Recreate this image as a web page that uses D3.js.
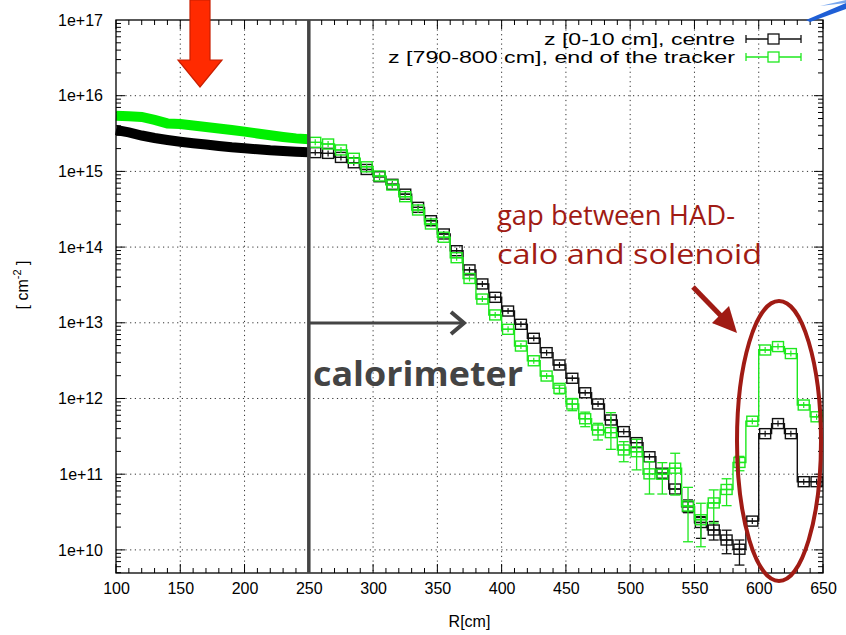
<!DOCTYPE html>
<html><head><meta charset="utf-8">
<script src="https://cdn.jsdelivr.net/npm/d3@7"></script>
<style>html,body{margin:0;padding:0;background:#fff;}svg{display:block;}</style>
</head><body>
<script>
// ---- data ----
const xTicks = [100,150,200,250,300,350,400,450,500,550,600,650];
const yTicks = [1e10,1e11,1e12,1e13,1e14,1e15,1e16,1e17];
const yTickLabels = ["1e+10","1e+11","1e+12","1e+13","1e+14","1e+15","1e+16","1e+17"];
const seriesNames = ["z [0-10 cm], centre","z [790-800 cm], end of the tracker"];

// dense tracker region (R 100-250 cm)
const bandR = [100,110,120,130,140,150,160,170,180,190,200,210,220,230,240,250];
const bandCentre = [3.52e15,3.27e15,2.98e15,2.76e15,2.60e15,2.47e15,2.36e15,2.27e15,2.17e15,2.08e15,2.02e15,1.96e15,1.90e15,1.86e15,1.82e15,1.79e15];
const bandEnd = [5.45e15,5.35e15,5.24e15,4.78e15,4.30e15,4.23e15,4.04e15,3.86e15,3.69e15,3.52e15,3.35e15,3.17e15,3.00e15,2.85e15,2.73e15,2.65e15];

// 10 cm bins (R 250-650 cm)
const binR = [255,265,275,285,295,305,315,325,335,345,355,365,375,385,395,405,415,425,435,445,455,465,475,485,495,505,515,525,535,545,555,565,575,585,595,605,615,625,635,645];
const centre = [1.77e15,1.73e15,1.53e15,1.30e15,1.06e15,8.5e14,6.75e14,5.0e14,3.35e14,2.23e14,1.49e14,8.96e13,5.0e13,3.26e13,2.17e13,1.43e13,9.55e12,6.24e12,4.03e12,2.77e12,1.85e12,1.19e12,8.46e11,5.2e11,3.65e11,2.61e11,1.70e11,1.03e11,6.37e10,3.72e10,2.3e10,1.83e10,1.35e10,1.02e10,2.4e10,3.43e11,4.66e11,3.43e11,7.96e10,7.96e10];
const endTracker = [2.42e15,2.30e15,1.92e15,1.49e15,1.15e15,8.7e14,6.6e14,4.63e14,3.09e14,2.02e14,1.35e14,7.24e13,3.85e13,2.06e13,1.27e13,8.2e12,4.93e12,3.15e12,1.98e12,1.36e12,8.46e11,5.4e11,3.84e11,3.54e11,2.09e11,1.98e11,1.01e11,9.97e10,1.2e11,3.8e10,2.5e10,4.17e10,6.28e10,1.43e11,5.01e11,4.37e12,4.85e12,3.92e12,8.2e11,5.73e11];

// visible error bars
const centreErrR = [545,555,565,575,585];
const centreErrLo = [3.1e10,1.42e10,1.35e10,8.9e9,6.3e9];
const centreErrHi = [4.57e10,2.75e10,2.37e10,1.82e10,1.35e10];
const endErrR = [445,455,465,475,485,495,505,515,525,535,545,555,565,575,585];
const endErrLo = [1.15e12,6.9e11,4.24e11,2.83e11,2.13e11,1.46e11,1.14e11,5.47e10,5.47e10,5.3e10,1.28e10,1.1e10,2.26e10,3.84e10,1.11e11];
const endErrHi = [1.5e12,1.0e12,6.6e11,4.7e11,6.5e11,2.69e11,2.89e11,1.46e11,1.42e11,1.89e11,6.7e10,4.13e10,6.2e10,8.7e10,1.72e11];

// ---- drawing ----
const W = 846, H = 635;
const L = 116, R = 823, T = 20, B = 573;
const BLACK = "#111", GREEN = "#1ee81e", DARKRED = "#a01b14", GREY = "#444";

const svg = d3.select("body").append("svg").attr("width", W).attr("height", H)
  .style("font-family", "'Liberation Sans', Arial, sans-serif");

const x = d3.scaleLinear().domain([100, 650]).range([L, R]);
const y = d3.scaleLog().domain([4.95e9, 1e17]).range([B, T]);

// grid
const grid = svg.append("g").attr("stroke", "#333").attr("stroke-width", 1).attr("stroke-dasharray", "1.2,3.5");
xTicks.slice(1, -1).forEach(v => grid.append("line").attr("x1", x(v)).attr("x2", x(v)).attr("y1", T).attr("y2", B));
yTicks.slice(0, -1).forEach(v => grid.append("line").attr("x1", L).attr("x2", R).attr("y1", y(v)).attr("y2", y(v)));

// axes
const xMinor = d3.range(100, 651, 10);
const yMinor = [];
for (let e = 9; e < 17; e++) for (let m = 1; m < 10; m++) { const v = m * Math.pow(10, e); if (v >= 4.95e9 && v <= 1e17) yMinor.push(v); }

const axB = d3.axisBottom(x).tickValues(xTicks).tickFormat(d3.format("d")).tickSize(0).tickPadding(10);
const gB = svg.append("g").attr("transform", `translate(0,${B})`).call(axB);
gB.select(".domain").remove();
gB.selectAll("text").attr("font-size", 16).attr("fill", "#000").attr("font-family", "'Liberation Sans', Arial, sans-serif");

const axL = d3.axisLeft(y).tickValues(yTicks).tickFormat((d, i) => yTickLabels[i]).tickSize(0).tickPadding(13);
const gL = svg.append("g").attr("transform", `translate(${L},0)`).call(axL);
gL.select(".domain").remove();
gL.selectAll("text").attr("font-size", 16).attr("fill", "#000").attr("font-family", "'Liberation Sans', Arial, sans-serif");

const ticks = svg.append("g").attr("stroke", "#000").attr("stroke-width", 1);
xMinor.forEach(v => {
  const len = (v % 50 === 0) ? 9 : 5;
  ticks.append("line").attr("x1", x(v)).attr("x2", x(v)).attr("y1", B).attr("y2", B - len);
  ticks.append("line").attr("x1", x(v)).attr("x2", x(v)).attr("y1", T).attr("y2", T + len);
});
yMinor.forEach(v => {
  const major = Math.abs(Math.log10(v) - Math.round(Math.log10(v))) < 1e-9;
  const len = major ? 9 : 5;
  ticks.append("line").attr("x1", L).attr("x2", L + len).attr("y1", y(v)).attr("y2", y(v));
  ticks.append("line").attr("x1", R).attr("x2", R - len).attr("y1", y(v)).attr("y2", y(v));
});

// axis titles
svg.append("text").attr("x", (L + R) / 2 - 0).attr("y", 627).attr("text-anchor", "middle")
  .attr("font-size", 16).text("R[cm]");
const yl = svg.append("text").attr("transform", "translate(28,285) rotate(-90)").attr("text-anchor", "middle").attr("font-size", 16);
yl.append("tspan").text("[ cm");
yl.append("tspan").attr("dy", -7).attr("font-size", 11).text("-2");
yl.append("tspan").attr("dy", 7).text(" ]");

// dense band (tracker region)
const bandLine = d3.line().x(d => x(d[0])).y(d => y(d[1]));
svg.append("path").attr("d", bandLine(bandR.map((r, i) => [r, bandCentre[i]])))
  .attr("fill", "none").attr("stroke", "#000").attr("stroke-width", 10);
svg.append("path").attr("d", bandLine(bandR.map((r, i) => [r, bandEnd[i]])))
  .attr("fill", "none").attr("stroke", "#00f000").attr("stroke-width", 10);

// histogram steps + markers
function drawSeries(vals, color, errR, errLo, errHi) {
  const g = svg.append("g");
  const pts = binR.flatMap((r, i) => [[r - 5, vals[i]], [r + 5, vals[i]]]);
  g.append("path").attr("d", bandLine(pts)).attr("fill", "none").attr("stroke", color).attr("stroke-width", 1.4);
  errR.forEach((r, i) => {
    const cx = x(r);
    g.append("line").attr("x1", cx).attr("x2", cx).attr("y1", y(errLo[i])).attr("y2", y(errHi[i])).attr("stroke", color).attr("stroke-width", 1.3);
    [errLo[i], errHi[i]].forEach(v => g.append("line").attr("x1", cx - 5).attr("x2", cx + 5).attr("y1", y(v)).attr("y2", y(v)).attr("stroke", color).attr("stroke-width", 1.3));
  });
  binR.forEach((r, i) => {
    const cx = x(r), cy = y(vals[i]);
    g.append("rect").attr("x", cx - 5.5).attr("y", cy - 5).attr("width", 11).attr("height", 10)
      .attr("fill", "none").attr("stroke", color).attr("stroke-width", 1.4);
    g.append("line").attr("x1", cx - 5.5).attr("x2", cx + 5.5).attr("y1", cy).attr("y2", cy).attr("stroke", color).attr("stroke-width", 1.2);
    g.append("line").attr("x1", cx).attr("x2", cx).attr("y1", cy - 3).attr("y2", cy + 3).attr("stroke", color).attr("stroke-width", 1.2);
  });
}
drawSeries(centre, BLACK, centreErrR, centreErrLo, centreErrHi);
drawSeries(endTracker, GREEN, endErrR, endErrLo, endErrHi);

// frame
svg.append("rect").attr("x", L).attr("y", T).attr("width", R - L).attr("height", B - T)
  .attr("fill", "none").attr("stroke", "#000").attr("stroke-width", 1.3);

// legend
const legend = svg.append("g");
const legendWidths = [191, 347];
[[BLACK, 39], [GREEN, 57]].forEach(([c, ly], i) => {
  legend.append("text").attr("x", 735).attr("y", ly + 6).attr("text-anchor", "end").attr("font-size", 16)
    .attr("textLength", legendWidths[i]).attr("lengthAdjust", "spacingAndGlyphs").text(seriesNames[i]);
  legend.append("line").attr("x1", 746).attr("x2", 801).attr("y1", ly).attr("y2", ly).attr("stroke", c).attr("stroke-width", 1.3);
  [746, 801].forEach(xx => legend.append("line").attr("x1", xx).attr("x2", xx).attr("y1", ly - 4).attr("y2", ly + 4).attr("stroke", c).attr("stroke-width", 1.3));
  legend.append("rect").attr("x", 768).attr("y", ly - 5).attr("width", 11).attr("height", 10).attr("fill", "#fff").attr("stroke", c).attr("stroke-width", 1.3);
});

// calorimeter annotation
svg.append("line").attr("x1", x(250)).attr("x2", x(250)).attr("y1", T).attr("y2", B).attr("stroke", GREY).attr("stroke-width", 3.5);
svg.append("line").attr("x1", x(250)).attr("x2", 464).attr("y1", 323).attr("y2", 323).attr("stroke", GREY).attr("stroke-width", 3);
svg.append("path").attr("d", "M451,312 L464,323 L451,334").attr("fill", "none").attr("stroke", GREY).attr("stroke-width", 4);
svg.append("text").attr("x", 313).attr("y", 386).attr("font-family", "'Open Sans', sans-serif").attr("font-weight", "bold")
  .attr("font-size", 34).attr("textLength", 210).attr("lengthAdjust", "spacingAndGlyphs").attr("fill", GREY).text("calorimeter");

// gap annotation
const gapText = svg.append("text").attr("font-family", "'Open Sans', sans-serif").attr("font-size", 28).attr("fill", DARKRED);
gapText.append("tspan").attr("x", 497).attr("y", 225).attr("textLength", 238).attr("lengthAdjust", "spacingAndGlyphs").text("gap between HAD-");
gapText.append("tspan").attr("x", 497).attr("y", 264).attr("textLength", 265).attr("lengthAdjust", "spacingAndGlyphs").text("calo and solenoid");
svg.append("line").attr("x1", 693).attr("y1", 287).attr("x2", 725).attr("y2", 320).attr("stroke", DARKRED).attr("stroke-width", 5);
svg.append("path").attr("d", "M737,333 L712,323 L729,306 Z").attr("fill", DARKRED);
svg.append("ellipse").attr("cx", 779).attr("cy", 441).attr("rx", 42).attr("ry", 140)
  .attr("fill", "none").attr("stroke", DARKRED).attr("stroke-width", 4);

// red arrow at top
svg.append("path").attr("d", "M190,0 L210,0 L210,60 L222,60 L200,87 L178,60 L190,60 Z")
  .attr("fill", "#ff2a00").attr("stroke", "#c81e00").attr("stroke-width", 1.2);

// blue stroke at top-right corner
svg.append("path").attr("d", "M806,20 L846,3 L846,9 L810,22 Z").attr("fill", "#1f5fd6");
svg.append("path").attr("d", "M820,6 L846,0 L846,3 Z").attr("fill", "#7aa8ee");
</script>
</body></html>
